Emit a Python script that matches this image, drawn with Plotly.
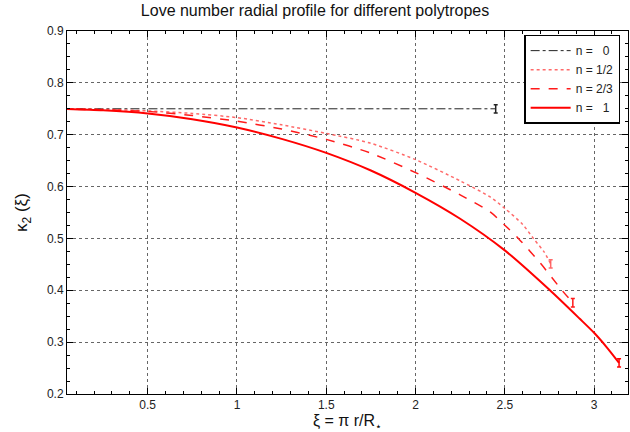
import plotly.graph_objects as go

# ---- data ----
xi_n0 = [0.0, 2.449]
k_n0 = [0.750, 0.750]

xi_n05 = [0.0, 0.25, 0.5, 0.75, 1.0, 1.25, 1.5, 1.745, 2.0, 2.25, 2.418, 2.5, 2.6, 2.66, 2.72, 2.757]
k_n05 = [0.750, 0.749, 0.746, 0.741, 0.733, 0.719, 0.7025, 0.684, 0.652, 0.611, 0.580, 0.558, 0.527, 0.500, 0.474, 0.451]

xi_n23 = [0.0, 0.25, 0.5, 0.75, 1.0, 1.25, 1.5, 1.745, 2.0, 2.25, 2.418, 2.5, 2.576, 2.7, 2.82, 2.881]
k_n23 = [0.750, 0.748, 0.745, 0.737, 0.726, 0.711, 0.691, 0.665, 0.627, 0.584, 0.551, 0.5255, 0.500, 0.452, 0.400, 0.376]

xi_n1 = [0.0, 0.25, 0.5, 0.75, 1.0, 1.25, 1.5, 1.75, 2.0, 2.25, 2.5, 2.75, 2.92, 3.0, 3.07, 3.14]
k_n1 = [0.750, 0.747, 0.741, 0.730, 0.714, 0.692, 0.665, 0.631, 0.588, 0.538, 0.477, 0.401, 0.345, 0.318, 0.2905, 0.260]

labels = ["n =   0", "n = 1/2", "n = 2/3", "n =   1"]
colors = ["#222222", "rgba(255,90,90,0.9)", "#ff1a1a", "#ff0000"]
dashes = ["dashdot", "dot", "dash", "solid"]
widths = [1.0, 1.5, 1.5, 2.0]

x_ticks = [0.5, 1, 1.5, 2, 2.5, 3]
y_ticks = [0.2, 0.3, 0.4, 0.5, 0.6, 0.7, 0.8, 0.9]

series = [(xi_n0, k_n0), (xi_n05, k_n05), (xi_n23, k_n23), (xi_n1, k_n1)]

fig = go.Figure()
for (xs, ks), lab, col, dsh, w in zip(series, labels, colors, dashes, widths):
    fig.add_trace(go.Scatter(
        x=xs, y=ks, mode="lines", name=lab,
        line=dict(color=col, dash=dsh, width=w, shape="spline", smoothing=0.7),
    ))
# end-point bars
for (xs, ks), col in zip(series, colors):
    fig.add_trace(go.Scatter(
        x=[xs[-1]], y=[ks[-1]], mode="markers", showlegend=False,
        marker=dict(size=1, color=col, opacity=0),
        error_y=dict(type="data", array=[0.008], visible=True, width=2,
                     thickness=1.5, color=col),
        hoverinfo="skip",
    ))

axis_common = dict(
    showline=True, linecolor="black", linewidth=1, mirror="allticks",
    ticks="inside", ticklen=6, tickcolor="black",
    showgrid=True, gridcolor="#666666", griddash="dot", gridwidth=1,
    zeroline=False,
    tickfont=dict(family="Liberation Sans, Arial", size=12, color="#222222"),
)

fig.update_xaxes(
    range=[0.048, 3.19], tickvals=x_ticks, ticktext=[str(v) for v in x_ticks],
    minor=dict(ticks="inside", ticklen=3, dtick=0.1, tickcolor="black", showgrid=False),
    title=dict(text="ξ = π r/R<sub>⋆</sub>", standoff=3,
               font=dict(family="Liberation Sans, Arial", size=16, color="#111111")),
    **axis_common,
)
fig.update_yaxes(
    range=[0.2, 0.9], tickvals=y_ticks, ticktext=[str(v) for v in y_ticks],
    minor=dict(ticks="inside", ticklen=3, dtick=0.025, tickcolor="black", showgrid=False),
    title=dict(text="κ<sub>2</sub> (ξ)", standoff=14,
               font=dict(family="Liberation Sans, Arial", size=17, color="#111111")),
    **axis_common,
)

fig.update_layout(
    width=630, height=432,
    margin=dict(l=67, r=2, t=31, b=38),
    paper_bgcolor="white", plot_bgcolor="white",
    title=dict(text="Love number radial profile for different polytropes",
               x=0.5, xanchor="center", y=0.977, yanchor="middle",
               font=dict(family="Liberation Sans, Arial", size=16, color="#111111")),
    legend=dict(x=0.986, y=0.99, xanchor="right", yanchor="top",
                bgcolor="white", bordercolor="black", borderwidth=1.5,
                font=dict(family="Liberation Sans, Arial", size=12, color="#222222"),
                tracegroupgap=0, itemwidth=40),
    showlegend=True,
)

fig.write_html("out.html", config={"displayModeBar": False},
               post_script="document.body.style.margin='0';document.body.style.overflow='hidden';")
